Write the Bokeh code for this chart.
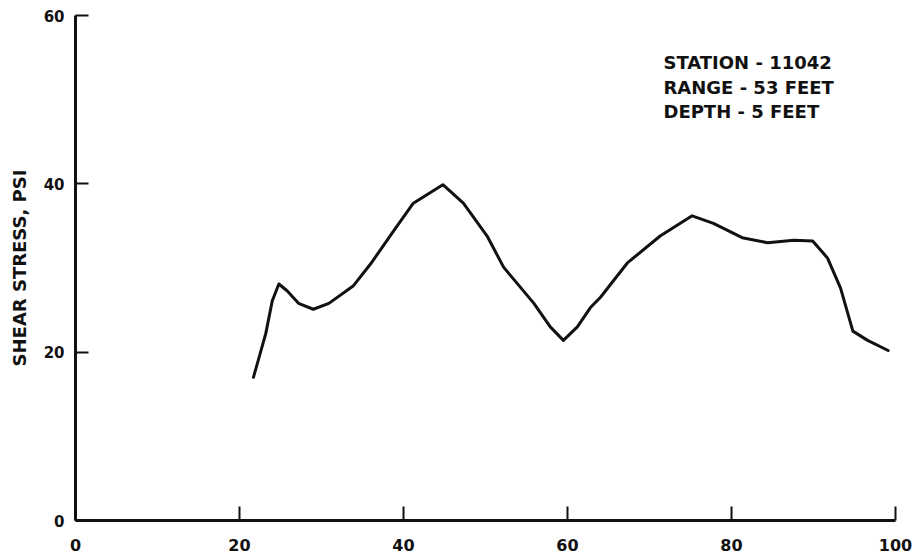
from bokeh.plotting import figure
from bokeh.models import Range1d, Label, FixedTicker
from bokeh.embed import file_html
from bokeh.resources import INLINE

# Data
range_ft = [21.7, 23.2, 24.0, 24.8, 25.8, 27.2, 29.0, 30.9, 33.9, 36.0, 38.8,
            41.2, 44.8, 47.3, 50.2, 52.2, 55.9, 57.9, 59.5, 61.2, 62.8, 64.0,
            67.3, 71.3, 75.2, 77.8, 81.3, 84.4, 87.6, 89.9, 91.7, 93.3, 94.8,
            96.6, 99.1]
shear_psi = [17.0, 22.2, 26.1, 28.1, 27.3, 25.8, 25.1, 25.8, 27.9, 30.5, 34.4,
             37.7, 39.9, 37.7, 33.8, 30.1, 25.8, 23.0, 21.4, 23.0, 25.3, 26.5,
             30.6, 33.8, 36.2, 35.3, 33.6, 33.0, 33.3, 33.2, 31.2, 27.6, 22.5,
             21.4, 20.2]
x_ticks = [0, 20, 40, 60, 80, 100]
y_ticks = [0, 20, 40, 60]
y_label = "SHEAR STRESS, PSI"
notes = ["STATION - 11042", "RANGE - 53 FEET", "DEPTH - 5 FEET"]

FONT = "DejaVu Sans"

p = figure(width=920, height=560, output_backend="svg", toolbar_location=None,
           x_range=Range1d(0, 100), y_range=Range1d(0, 60),
           min_border_left=75, min_border_right=25, min_border_top=15,
           min_border_bottom=40)
p.outline_line_color = None
p.xgrid.visible = False
p.ygrid.visible = False
p.background_fill_color = "white"
p.border_fill_color = "white"

p.line(range_ft, shear_psi, line_color="#111111", line_width=3,
       line_join="round", line_cap="round")

for ax in (p.xaxis[0], p.yaxis[0]):
    ax.axis_line_width = 3
    ax.axis_line_color = "#111111"
    ax.major_tick_line_color = "#111111"
    ax.major_tick_line_width = 2
    ax.major_tick_out = 0
    ax.minor_tick_line_color = None
    ax.major_label_text_font = FONT
    ax.major_label_text_font_style = "bold"
    ax.major_label_text_color = "#111111"

p.xaxis[0].ticker = FixedTicker(ticks=x_ticks)
p.xaxis[0].major_tick_in = 14
p.xaxis[0].major_label_text_font_size = "16px"
p.xaxis[0].major_label_standoff = 18

p.yaxis[0].ticker = FixedTicker(ticks=y_ticks)
p.yaxis[0].major_tick_in = 13
p.yaxis[0].major_label_text_font_size = "15px"
p.yaxis[0].major_label_standoff = 11
p.yaxis[0].axis_label = y_label
p.yaxis[0].axis_label_text_font = FONT
p.yaxis[0].axis_label_text_font_style = "bold"
p.yaxis[0].axis_label_text_font_size = "18px"
p.yaxis[0].axis_label_text_color = "#111111"
p.yaxis[0].axis_label_standoff = 11

note_y = [54.4, 51.5, 48.6]
for txt, yy in zip(notes, note_y):
    p.add_layout(Label(x=71.7, y=yy, text=txt, text_font=FONT,
                       text_font_style="bold", text_font_size="18px",
                       text_color="#111111", text_baseline="alphabetic"))

open("out.html", "w").write(file_html(p, INLINE))
